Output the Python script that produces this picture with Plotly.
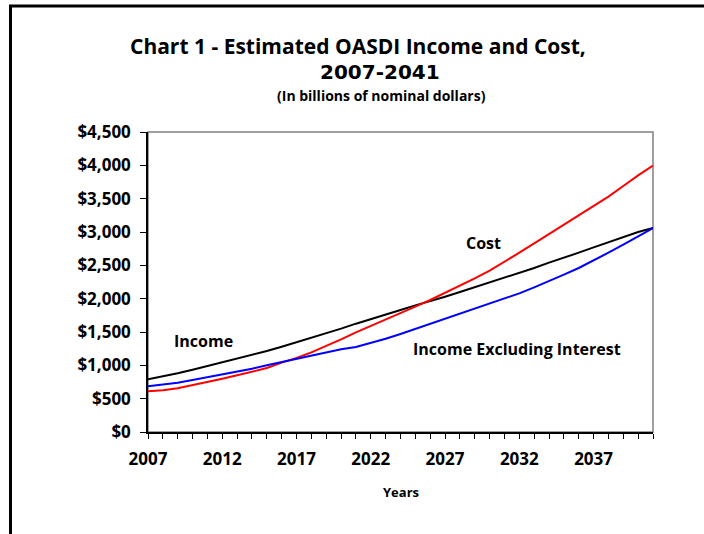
import plotly.graph_objects as go

years = list(range(2007, 2042))
income = [790, 830, 880, 935, 990, 1045, 1100, 1150, 1215, 1280, 1345, 1410,
          1480, 1550, 1625, 1690, 1765, 1830, 1900, 1960, 2030, 2100, 2170,
          2240, 2315, 2390, 2460, 2540, 2610, 2690, 2770, 2850, 2930, 3000, 3060]
cost = [610, 625, 655, 700, 750, 800, 850, 900, 960, 1040, 1110, 1195, 1290,
        1390, 1495, 1590, 1680, 1780, 1880, 1980, 2085, 2195, 2305, 2420, 2550,
        2690, 2830, 2970, 3110, 3250, 3390, 3530, 3690, 3850, 3995]
income_ex_int = [685, 710, 740, 780, 820, 870, 905, 950, 1000, 1050, 1100, 1150,
                 1200, 1240, 1275, 1335, 1400, 1470, 1545, 1625, 1700, 1770,
                 1845, 1920, 2000, 2080, 2170, 2260, 2360, 2460, 2570, 2690,
                 2810, 2940, 3060]
ytick_vals = list(range(0, 4501, 500))
ytick_text = ["$" + format(v, ",") for v in ytick_vals]
xtick_text = [str(y) if (y - 2007) % 5 == 0 else "" for y in years]

FONT = "Open Sans"
FONT2 = "DejaVu Sans"
fig = go.Figure()
fig.add_trace(go.Scatter(x=years, y=income, mode="lines", name="Income",
                         line=dict(color="black", width=2)))
fig.add_trace(go.Scatter(x=years, y=cost, mode="lines", name="Cost",
                         line=dict(color="#ff0000", width=2)))
fig.add_trace(go.Scatter(x=years, y=income_ex_int, mode="lines",
                         name="Income Excluding Interest",
                         line=dict(color="#0000ff", width=2)))

L, R, T, B = 148, 51, 132, 102
W, H = 704, 534
pw, ph = W - L - R, H - T - B


def px(x):
    return (x - L) / pw


def py(y):
    return (H - B - y) / ph


def note(text, x, y, size, family=FONT, weight="bold"):
    return dict(text=text, xref="paper", yref="paper", x=px(x), y=py(y),
                showarrow=False, xanchor="center", yanchor="middle",
                font=dict(family=family, size=size, weight=weight, color="black"))


fig.update_layout(
    width=W, height=H,
    margin=dict(l=L, r=R, t=T, b=B),
    paper_bgcolor="white", plot_bgcolor="white",
    showlegend=False,
    font=dict(family=FONT, color="black"),
    xaxis=dict(range=[2007, 2041], tickvals=years, ticktext=xtick_text,
               ticks="outside", ticklen=5, tickwidth=1, tickcolor="black",
               showline=True, linecolor="black", linewidth=1.5,
               showgrid=False, zeroline=False, ticklabelstandoff=6,
               tickfont=dict(family=FONT, size=17, weight="bold")),
    yaxis=dict(range=[0, 4500], tickvals=ytick_vals, ticktext=ytick_text,
               ticks="outside", ticklen=6, tickwidth=1, tickcolor="black",
               showline=True, linecolor="black", linewidth=1.5,
               showgrid=False, zeroline=False, ticklabelstandoff=6,
               tickfont=dict(family=FONT, size=17, weight="bold")),
    shapes=[
        dict(type="rect", xref="paper", yref="paper", x0=0, x1=1, y0=0, y1=1,
             line=dict(color="#808080", width=1.5), layer="below"),
        dict(type="line", xref="paper", yref="paper", x0=px(10.5), x1=px(10.5),
             y0=py(6), y1=py(540), line=dict(color="black", width=3)),
        dict(type="line", xref="paper", yref="paper", x0=px(9), x1=px(720),
             y0=py(6), y1=py(6), line=dict(color="black", width=3)),
    ],
    annotations=[
        note("Chart 1 - Estimated OASDI Income and Cost,", 358, 46, 21),
        note("2007-2041", 380, 72, 20, family=FONT2),
        note("(In billions of nominal dollars)", 381, 96, 14),
        note("Income", 203, 341, 16),
        note("Cost", 483, 243, 16),
        note("Income Excluding Interest", 517, 349, 16),
        note("Years", 401, 492, 13),
    ],
)
fig.write_html("out.html")
